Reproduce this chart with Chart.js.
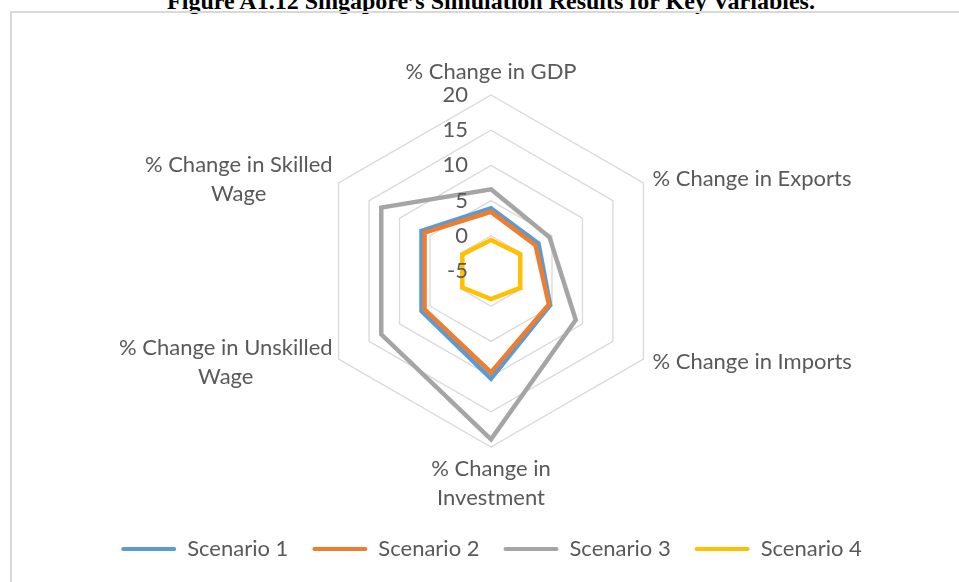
<!DOCTYPE html>
<html>
<head>
<meta charset="utf-8">
<script src="https://cdn.jsdelivr.net/npm/chart.js@4.4.1/dist/chart.umd.min.js"></script>
<style>
  body { margin: 0; background: #fff; width: 959px; height: 582px; overflow: hidden; position: relative; }
  #title { position: absolute; left: 0; width: 982px; top: -12px; line-height: 24px; text-align: center;
           font: bold 24px "Liberation Serif", "Times New Roman", serif; color: #000; white-space: nowrap; }
  #frame { position: absolute; left: 10px; top: 11px; width: 1000px; height: 600px; border: 2px solid #d9d9d9; }
  #chart { position: absolute; left: 0; top: 0; }
</style>
</head>
<body>
<div id="title">Figure A1.12 Singapore’s Simulation Results for Key Variables.</div>
<div id="frame"></div>
<canvas id="chart" width="959" height="582"></canvas>
<script>
"use strict";

const categories = [
  ["% Change in GDP"],
  ["% Change in Exports"],
  ["% Change in Imports"],
  ["% Change in", "Investment"],
  ["% Change in Unskilled", "Wage"],
  ["% Change in Skilled", "Wage"],
];
const scenario1 = [3.9, 2.8, 4.7, 10.3, 6.4, 6.4];
const scenario2 = [3.4, 2.3, 4.5, 9.4, 5.9, 5.9];
const scenario3 = [6.6, 4.6, 8.9, 18.9, 13.0, 13.0];
const scenario4 = [-0.6, -0.2, -0.2, -1.0, -0.3, -0.3];
const tickValues = [-5, 0, 5, 10, 15, 20];
const seriesNames = ["Scenario 1", "Scenario 2", "Scenario 3", "Scenario 4"];
const seriesColors = ["#5B9BD5", "#ED7D31", "#A5A5A5", "#FFC000"];

const FONT_SIZE = 22;
const FONT = FONT_SIZE + "px Lato, 'Open Sans', sans-serif";
const TEXT = "#595959";

// excel style axis text: ticks left of the top spoke, labels hugging the vertices
const excelLabels = {
  id: "excelLabels",
  afterDatasetsDraw(chart) {
    const scale = chart.scales.r;
    const ctx = chart.ctx;
    ctx.save();
    ctx.font = FONT;
    ctx.fillStyle = TEXT;
    ctx.textBaseline = "middle";

    ctx.textAlign = "right";
    scale.ticks.forEach((t) => {
      const d = scale.getDistanceFromCenterForValue(t.value);
      ctx.fillText(t.label, scale.xCenter - 23, scale.yCenter - d);
    });

    const lh = 29;
    ctx.textAlign = "center";
    chart.data.labels.forEach((lines, i) => {
      const p = scale.getPointPosition(i, scale.drawingArea);
      const angle = scale.getIndexAngle(i);
      const sin = Math.sin(angle);
      const cos = Math.cos(angle);
      const w = Math.max(...lines.map((l) => ctx.measureText(l).width));
      let bx, y0;
      if (Math.abs(sin) < 0.01) {
        bx = p.x;
        y0 = cos > 0 ? p.y - 23 - (lines.length - 1) * lh : p.y + 22;
      } else {
        bx = sin > 0 ? p.x + 9 + w / 2 : p.x - 6 - w / 2;
        y0 = p.y + (cos > 0 ? -4 : 3) - ((lines.length - 1) * lh) / 2;
      }
      lines.forEach((l, k) => ctx.fillText(l, bx, y0 + k * lh));
    });
    ctx.restore();
  },
};

const allSeries = [scenario1, scenario2, scenario3, scenario4];

new Chart(document.getElementById("chart"), {
  type: "radar",
  data: {
    labels: categories,
    datasets: allSeries.map((values, i) => ({
      label: seriesNames[i],
      data: values,
      borderColor: seriesColors[i],
      backgroundColor: seriesColors[i],
      borderWidth: 4.5,
      pointRadius: 0,
      fill: false,
      order: allSeries.length - i,
    })),
  },
  options: {
    responsive: false,
    animation: false,
    layout: { padding: { top: 95, left: 24, right: 0, bottom: 12 } },
    scales: {
      r: {
        min: tickValues[0],
        max: tickValues[tickValues.length - 1],
        ticks: { stepSize: tickValues[1] - tickValues[0], display: false },
        grid: { color: "#d9d9d9", lineWidth: 1.3 },
        angleLines: { display: false },
        pointLabels: { display: false },
      },
    },
    plugins: {
      tooltip: { enabled: false },
      legend: {
        position: "bottom",
        title: { display: true, text: "", padding: { top: 57, bottom: 0 }, font: { size: 10, lineHeight: 1 } },
        labels: {
          font: { size: FONT_SIZE, family: "Lato, 'Open Sans', sans-serif" },
          color: TEXT,
          boxWidth: 55,
          boxHeight: 4,
          padding: 24,
          sort: (a, b) => a.datasetIndex - b.datasetIndex,
          generateLabels: (chart) =>
            Chart.defaults.plugins.legend.labels.generateLabels(chart).map((item) => ({
              ...item,
              fillStyle: item.strokeStyle,
              lineWidth: 0,
              borderRadius: 2,
            })),
        },
      },
    },
  },
  plugins: [excelLabels],
});
</script>
</body>
</html>
